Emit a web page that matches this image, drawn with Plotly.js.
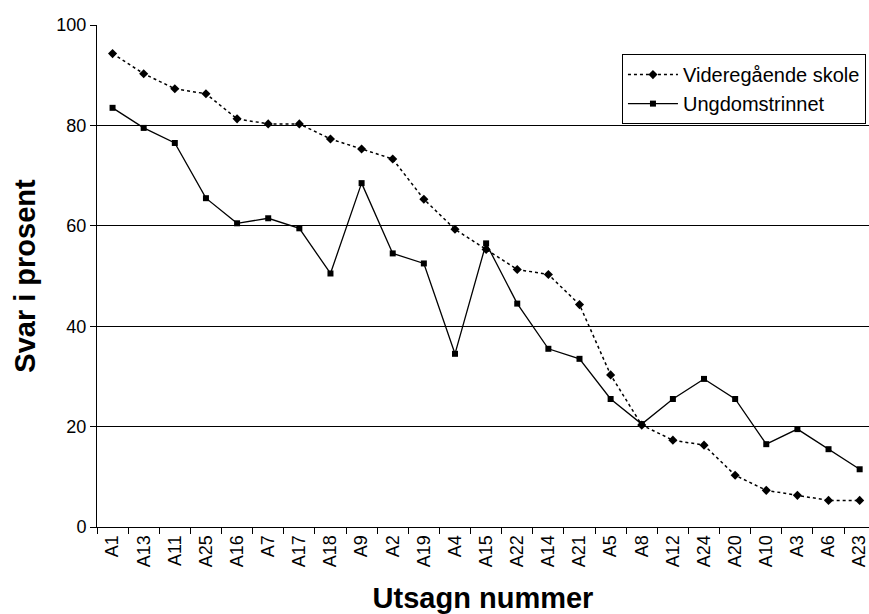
<!DOCTYPE html>
<html>
<head>
<meta charset="utf-8">
<script src="https://cdn.plot.ly/plotly-3.0.1.min.js"></script>
<style>html,body{margin:0;padding:0;background:#fff;}#chart{width:869px;height:614px;}</style>
</head>
<body>
<div id="chart"></div>
<script>
const categories = ["A1","A13","A11","A25","A16","A7","A17","A18","A9","A2","A19","A4","A15","A22","A14","A21","A5","A8","A12","A24","A20","A10","A3","A6","A23"];
const videregaende = [94.3,90.3,87.3,86.3,81.3,80.3,80.3,77.3,75.3,73.3,65.3,59.3,55.3,51.3,50.3,44.3,30.3,20.3,17.3,16.3,10.3,7.3,6.3,5.3,5.3];
const ungdomstrinnet = [83.5,79.5,76.5,65.5,60.5,61.5,59.5,50.5,68.5,54.5,52.5,34.5,56.5,44.5,35.5,33.5,25.5,20.5,25.5,29.5,25.5,16.5,19.5,15.5,11.5];
const yTicks = [0,20,40,60,80,100];

const FONT = "Liberation Sans, Arial, sans-serif";

const traces = [
  {
    x: categories, y: videregaende, type: "scatter", mode: "lines+markers",
    name: "Videregående skole",
    line: {color: "#000", width: 1.5, dash: "dot"},
    marker: {symbol: "diamond", size: 7, color: "#000"}
  },
  {
    x: categories, y: ungdomstrinnet, type: "scatter", mode: "lines+markers",
    name: "Ungdomstrinnet",
    line: {color: "#000", width: 1.3},
    marker: {symbol: "square", size: 6, color: "#000"}
  }
];

const layout = {
  width: 869, height: 614,
  margin: {l: 97, r: 0, t: 25, b: 87, autoexpand: false},
  paper_bgcolor: "#fff", plot_bgcolor: "#fff",
  font: {family: FONT, size: 18, color: "#000"},
  showlegend: true,
  legend: {
    x: 0.68, y: 0.942, xanchor: "left", yanchor: "top",
    bordercolor: "#000", borderwidth: 1, bgcolor: "#fff",
    font: {family: FONT, size: 20, color: "#000"},
    itemwidth: 50,
    tracegroupgap: 0
  },
  xaxis: {
    type: "category",
    range: [-0.5, 24.3],
    tickangle: -90,
    tickson: "boundaries",
    ticks: "outside", ticklen: 6, tickcolor: "#000", tickwidth: 1,
    showline: true, linecolor: "#000", linewidth: 1,
    showgrid: false, zeroline: false,
    tickfont: {family: FONT, size: 18, color: "#000"},
    automargin: false,
    title: {text: "Utsagn nummer", font: {family: FONT, size: 29, color: "#000", weight: "bold"}, standoff: 21}
  },
  yaxis: {
    range: [0, 100],
    tickvals: yTicks,
    ticks: "outside", ticklen: 6, tickcolor: "#000", tickwidth: 1,
    showline: true, linecolor: "#000", linewidth: 1,
    showgrid: true, gridcolor: "#000", gridwidth: 1,
    zeroline: false,
    tickfont: {family: FONT, size: 18, color: "#000"},
    automargin: false,
    title: {text: "Svar i prosent", font: {family: FONT, size: 29, color: "#000", weight: "bold"}, standoff: 12}
  }
};

Plotly.newPlot("chart", traces, layout, {displayModeBar: false, staticPlot: true});
</script>
</body>
</html>
